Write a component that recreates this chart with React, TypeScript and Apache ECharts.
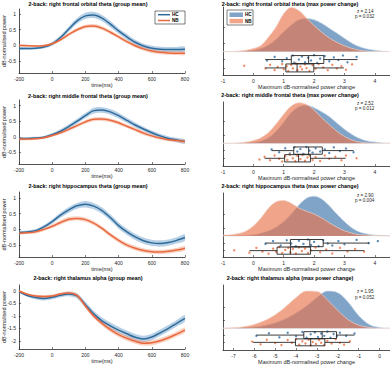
import React, { useEffect, useRef } from "react";
import * as echarts from "echarts";

// ---------------- data ----------------
const TIME = [-200, -150, -100, -50, 0, 50, 100, 150, 200, 250, 300, 350, 400, 450, 500, 550, 600, 650, 700, 750, 800];
const TIME_TICKS = [-200, 0, 200, 400, 600, 800];
const THETA_Y_TICKS = [-0.5, 0, 0.5, 1];
const ALPHA_Y_TICKS = [-2, -1.5, -1, -0.5, 0];
const THETA_X_TICKS = [-1, 0, 1, 2, 3, 4];
const ALPHA_X_TICKS = [-7, -6, -5, -4, -3, -2, -1, 0];
const DENS_Y_TICKS = [-0.37, -0.18, 0.2, 0.55];

const GROUPS = ["HC", "NB"];

// frontal orbital
const FO_HC_MEAN = [-0.1, -0.1, -0.09, -0.05, 0.05, 0.25, 0.52, 0.78, 0.94, 0.97, 0.87, 0.68, 0.46, 0.27, 0.1, -0.02, -0.09, -0.12, -0.13, -0.13, -0.12];
const FO_HC_CI = [0.04, 0.04, 0.04, 0.05, 0.06, 0.07, 0.08, 0.09, 0.1, 0.1, 0.1, 0.1, 0.09, 0.09, 0.08, 0.08, 0.08, 0.08, 0.08, 0.08, 0.08];
const FO_NB_MEAN = [0.0, -0.01, -0.02, -0.01, 0.05, 0.18, 0.35, 0.5, 0.6, 0.62, 0.55, 0.42, 0.27, 0.12, -0.01, -0.11, -0.18, -0.22, -0.24, -0.25, -0.25];
const FO_NB_CI = [0.03, 0.03, 0.03, 0.04, 0.04, 0.05, 0.05, 0.06, 0.06, 0.06, 0.06, 0.06, 0.06, 0.06, 0.06, 0.06, 0.06, 0.06, 0.06, 0.06, 0.06];
// middle frontal
const MF_HC_MEAN = [-0.05, -0.05, -0.04, -0.01, 0.07, 0.18, 0.33, 0.5, 0.68, 0.84, 0.86, 0.8, 0.68, 0.53, 0.38, 0.25, 0.13, 0.03, -0.05, -0.1, -0.15];
const MF_HC_CI = [0.04, 0.04, 0.04, 0.04, 0.05, 0.06, 0.07, 0.08, 0.08, 0.09, 0.09, 0.09, 0.09, 0.08, 0.08, 0.07, 0.07, 0.07, 0.07, 0.07, 0.07];
const MF_NB_MEAN = [-0.07, -0.07, -0.06, -0.03, 0.04, 0.13, 0.24, 0.36, 0.48, 0.56, 0.57, 0.53, 0.45, 0.34, 0.23, 0.12, 0.03, -0.04, -0.09, -0.12, -0.15];
const MF_NB_CI = [0.04, 0.04, 0.04, 0.04, 0.04, 0.05, 0.05, 0.05, 0.06, 0.06, 0.06, 0.06, 0.06, 0.06, 0.06, 0.06, 0.05, 0.05, 0.05, 0.05, 0.05];
// hippocampus
const HP_HC_MEAN = [-0.1, -0.08, -0.04, 0.08, 0.25, 0.45, 0.62, 0.75, 0.8, 0.74, 0.6, 0.38, 0.12, -0.08, -0.24, -0.36, -0.43, -0.45, -0.42, -0.35, -0.26];
const HP_HC_CI = [0.04, 0.04, 0.05, 0.06, 0.07, 0.08, 0.09, 0.09, 0.1, 0.1, 0.1, 0.1, 0.1, 0.1, 0.1, 0.1, 0.1, 0.1, 0.1, 0.1, 0.1];
const HP_NB_MEAN = [-0.12, -0.11, -0.08, 0.0, 0.1, 0.22, 0.32, 0.35, 0.31, 0.2, 0.03, -0.17, -0.35, -0.5, -0.6, -0.67, -0.71, -0.72, -0.7, -0.66, -0.6];
const HP_NB_CI = [0.04, 0.04, 0.05, 0.05, 0.06, 0.07, 0.07, 0.07, 0.07, 0.07, 0.07, 0.07, 0.07, 0.07, 0.07, 0.07, 0.07, 0.07, 0.07, 0.07, 0.07];
// thalamus
const TH_HC_MEAN = [-0.02, -0.18, -0.26, -0.3, -0.25, -0.17, -0.12, -0.2, -0.55, -0.92, -1.2, -1.4, -1.57, -1.72, -1.86, -1.93, -1.85, -1.68, -1.5, -1.3, -1.1];
const TH_HC_CI = [0.03, 0.05, 0.07, 0.08, 0.08, 0.08, 0.09, 0.1, 0.12, 0.13, 0.13, 0.13, 0.13, 0.13, 0.13, 0.13, 0.13, 0.13, 0.13, 0.13, 0.13];
const TH_NB_MEAN = [0.0, -0.13, -0.2, -0.22, -0.2, -0.12, -0.08, -0.18, -0.6, -1.0, -1.3, -1.55, -1.75, -1.9, -2.02, -2.1, -2.08, -2.0, -1.88, -1.73, -1.57];
const TH_NB_CI = [0.03, 0.04, 0.05, 0.06, 0.06, 0.06, 0.07, 0.08, 0.09, 0.1, 0.1, 0.1, 0.1, 0.1, 0.1, 0.1, 0.1, 0.1, 0.1, 0.1, 0.1];

// densities (max power change)
const THETA_DENS_X = [-1, -0.75, -0.5, -0.25, 0, 0.25, 0.5, 0.75, 1, 1.25, 1.5, 1.75, 2, 2.25, 2.5, 2.75, 3, 3.25, 3.5, 3.75, 4, 4.25, 4.5];
const ALPHA_DENS_X = [-7.5, -7, -6.5, -6, -5.5, -5, -4.5, -4, -3.5, -3, -2.5, -2, -1.5, -1, -0.5, 0, 0.5];

const FO_HC_DENS = [0, 0, 0, 0.01, 0.03, 0.07, 0.15, 0.28, 0.45, 0.6, 0.72, 0.75, 0.72, 0.64, 0.53, 0.42, 0.3, 0.19, 0.11, 0.06, 0.03, 0.01, 0];
const FO_NB_DENS = [0, 0, 0.01, 0.03, 0.07, 0.14, 0.33, 0.56, 0.86, 1.0, 0.93, 0.76, 0.59, 0.44, 0.31, 0.21, 0.13, 0.07, 0.03, 0.01, 0, 0, 0];
const MF_HC_DENS = [0, 0, 0, 0, 0.02, 0.06, 0.14, 0.3, 0.52, 0.76, 0.9, 0.94, 0.88, 0.78, 0.66, 0.5, 0.35, 0.22, 0.12, 0.06, 0.03, 0.01, 0];
const MF_NB_DENS = [0, 0, 0.01, 0.03, 0.07, 0.14, 0.27, 0.48, 0.72, 0.92, 1.0, 0.96, 0.82, 0.63, 0.46, 0.3, 0.17, 0.08, 0.03, 0.01, 0, 0, 0];
const HP_HC_DENS = [0, 0, 0, 0.01, 0.03, 0.07, 0.13, 0.22, 0.36, 0.55, 0.78, 0.95, 1.0, 0.93, 0.76, 0.55, 0.36, 0.2, 0.1, 0.05, 0.02, 0.01, 0];
const HP_NB_DENS = [0.02, 0.03, 0.06, 0.12, 0.25, 0.45, 0.7, 0.86, 0.89, 0.82, 0.7, 0.62, 0.55, 0.45, 0.33, 0.22, 0.13, 0.07, 0.03, 0.02, 0.01, 0, 0];
const TH_HC_DENS = [0, 0, 0.01, 0.03, 0.07, 0.14, 0.25, 0.4, 0.58, 0.8, 0.97, 0.93, 0.68, 0.33, 0.1, 0.02, 0];
const TH_NB_DENS = [0, 0.01, 0.04, 0.1, 0.2, 0.35, 0.56, 0.8, 0.97, 0.96, 0.74, 0.46, 0.22, 0.08, 0.02, 0, 0];

// boxes: [whisker low, q1, median, q3, whisker high]
const FO_HC_BOX = [0.39, 1.25, 1.82, 2.32, 3.43];
const FO_NB_BOX = [0.39, 1.07, 1.44, 1.99, 2.98];
const MF_HC_BOX = [0.6, 1.33, 1.82, 2.27, 3.3];
const MF_NB_BOX = [0.37, 1.03, 1.49, 1.88, 3.04];
const HP_HC_BOX = [0.39, 1.22, 1.86, 2.3, 3.81];
const HP_NB_BOX = [-0.13, 0.78, 1.22, 1.88, 3.65];
const TH_HC_BOX = [-5.9, -3.63, -2.75, -2.06, -1.2];
const TH_NB_BOX = [-6.06, -4.03, -3.3, -2.62, -1.42];
const HC_ROW = -0.18;
const NB_ROW = -0.37;

// jittered individual values [value, jitter]
const FO_HC_PTS = [[0.45, -0.2], [0.7, -0.12], [0.95, -0.22], [1.1, -0.15], [1.3, -0.09], [1.35, -0.25], [1.5, -0.18], [1.6, -0.11], [1.7, -0.24], [1.8, -0.14], [1.9, -0.2], [2.0, -0.08], [2.1, -0.26], [2.2, -0.16], [2.35, -0.1], [2.5, -0.22], [2.65, -0.13], [2.8, -0.19], [2.95, -0.09], [3.1, -0.24], [3.4, -0.12]];
const FO_NB_PTS = [[-0.3, -0.32], [0.4, -0.38], [0.55, -0.3], [0.7, -0.42], [0.8, -0.35], [0.95, -0.28], [1.0, -0.4], [1.1, -0.33], [1.15, -0.44], [1.25, -0.3], [1.3, -0.38], [1.4, -0.27], [1.45, -0.42], [1.55, -0.34], [1.6, -0.4], [1.7, -0.29], [1.75, -0.37], [1.85, -0.44], [1.95, -0.31], [2.05, -0.39], [2.15, -0.28], [2.3, -0.36], [2.45, -0.42], [2.6, -0.3], [2.75, -0.38], [2.9, -0.33], [3.05, -0.41], [3.25, -0.29]];
const MF_HC_PTS = [[0.6, -0.15], [0.85, -0.22], [1.05, -0.12], [1.2, -0.25], [1.35, -0.1], [1.45, -0.2], [1.55, -0.14], [1.65, -0.26], [1.75, -0.09], [1.85, -0.18], [1.95, -0.23], [2.05, -0.12], [2.2, -0.2], [2.35, -0.15], [2.5, -0.24], [2.65, -0.1], [2.85, -0.19], [3.05, -0.13], [3.3, -0.22]];
const MF_NB_PTS = [[0.2, -0.4], [0.37, -0.33], [0.55, -0.42], [0.7, -0.3], [0.85, -0.38], [0.95, -0.45], [1.05, -0.32], [1.12, -0.41], [1.2, -0.28], [1.3, -0.37], [1.38, -0.44], [1.45, -0.31], [1.55, -0.39], [1.62, -0.29], [1.7, -0.43], [1.78, -0.35], [1.85, -0.3], [1.95, -0.41], [2.05, -0.34], [2.2, -0.44], [2.35, -0.3], [2.5, -0.38], [2.7, -0.33], [2.9, -0.42], [3.05, -0.3], [3.4, -0.37]];
const HP_HC_PTS = [[0.4, -0.2], [0.65, -0.13], [0.9, -0.24], [1.1, -0.11], [1.25, -0.19], [1.4, -0.26], [1.5, -0.12], [1.65, -0.2], [1.8, -0.09], [1.9, -0.23], [2.0, -0.15], [2.15, -0.26], [2.3, -0.11], [2.45, -0.19], [2.6, -0.24], [2.8, -0.13], [3.0, -0.21], [3.4, -0.1], [3.8, -0.18], [4.1, -0.13]];
const HP_NB_PTS = [[-0.63, -0.36], [-0.13, -0.42], [0.1, -0.3], [0.3, -0.39], [0.5, -0.45], [0.65, -0.32], [0.75, -0.4], [0.85, -0.28], [0.95, -0.43], [1.05, -0.35], [1.15, -0.3], [1.22, -0.41], [1.3, -0.33], [1.4, -0.44], [1.5, -0.29], [1.6, -0.38], [1.7, -0.32], [1.8, -0.43], [1.9, -0.36], [2.05, -0.29], [2.2, -0.41], [2.4, -0.34], [2.6, -0.44], [2.85, -0.3], [3.1, -0.39], [3.35, -0.33], [3.65, -0.4]];
const TH_HC_PTS = [[-5.9, -0.2], [-5.3, -0.13], [-4.8, -0.24], [-4.4, -0.12], [-4.0, -0.21], [-3.7, -0.1], [-3.5, -0.25], [-3.3, -0.16], [-3.1, -0.11], [-2.95, -0.23], [-2.8, -0.14], [-2.65, -0.2], [-2.5, -0.09], [-2.35, -0.25], [-2.2, -0.15], [-2.05, -0.21], [-1.9, -0.12], [-1.6, -0.2], [-1.2, -0.14]];
const TH_NB_PTS = [[-6.1, -0.35], [-5.7, -0.42], [-5.4, -0.3], [-5.0, -0.39], [-4.7, -0.44], [-4.4, -0.31], [-4.2, -0.38], [-4.0, -0.29], [-3.85, -0.43], [-3.7, -0.34], [-3.55, -0.4], [-3.4, -0.3], [-3.3, -0.45], [-3.2, -0.36], [-3.05, -0.41], [-2.9, -0.31], [-2.8, -0.38], [-2.65, -0.44], [-2.5, -0.33], [-2.3, -0.4], [-2.1, -0.29], [-1.9, -0.38], [-1.7, -0.43], [-1.42, -0.34]];

const REGIONS = ["right frontal orbital theta", "right middle frontal theta", "right hippocampus theta", "right thalamus alpha"];
const Z_STATS = ["z = 2.14", "z = 2.52", "z = 2.90", "z = 1.95"];
const P_STATS = ["p = 0.032", "p = 0.012", "p = 0.004", "p = 0.052"];

const PANELS = [
  { hcMean: FO_HC_MEAN, hcCi: FO_HC_CI, nbMean: FO_NB_MEAN, nbCi: FO_NB_CI, yRange: [-0.88, 1.16], yTicks: THETA_Y_TICKS,
    densX: THETA_DENS_X, hcDens: FO_HC_DENS, nbDens: FO_NB_DENS, xRange: [-1, 4.5], xTicks: THETA_X_TICKS, dRange: [-0.53, 1.01],
    hcBox: FO_HC_BOX, nbBox: FO_NB_BOX, hcPts: FO_HC_PTS, nbPts: FO_NB_PTS },
  { hcMean: MF_HC_MEAN, hcCi: MF_HC_CI, nbMean: MF_NB_MEAN, nbCi: MF_NB_CI, yRange: [-0.87, 1.18], yTicks: THETA_Y_TICKS,
    densX: THETA_DENS_X, hcDens: MF_HC_DENS, nbDens: MF_NB_DENS, xRange: [-1, 4.5], xTicks: THETA_X_TICKS, dRange: [-0.56, 1.02],
    hcBox: MF_HC_BOX, nbBox: MF_NB_BOX, hcPts: MF_HC_PTS, nbPts: MF_NB_PTS },
  { hcMean: HP_HC_MEAN, hcCi: HP_HC_CI, nbMean: HP_NB_MEAN, nbCi: HP_NB_CI, yRange: [-0.88, 1.19], yTicks: THETA_Y_TICKS,
    densX: THETA_DENS_X, hcDens: HP_HC_DENS, nbDens: HP_NB_DENS, xRange: [-1, 4.5], xTicks: THETA_X_TICKS, dRange: [-0.53, 1.08],
    hcBox: HP_HC_BOX, nbBox: HP_NB_BOX, hcPts: HP_HC_PTS, nbPts: HP_NB_PTS },
  { hcMean: TH_HC_MEAN, hcCi: TH_HC_CI, nbMean: TH_NB_MEAN, nbCi: TH_NB_CI, yRange: [-2.33, 0.24], yTicks: ALPHA_Y_TICKS,
    densX: ALPHA_DENS_X, hcDens: TH_HC_DENS, nbDens: TH_NB_DENS, xRange: [-7.5, 0.5], xTicks: ALPHA_X_TICKS, dRange: [-0.57, 1.13],
    hcBox: TH_HC_BOX, nbBox: TH_NB_BOX, hcPts: TH_HC_PTS, nbPts: TH_NB_PTS },
];

// ---------------- layout / style ----------------
const LEFT_GRIDS = [{ top: 9, h: 64 }, { top: 100, h: 64 }, { top: 192, h: 65 }, { top: 285, h: 64 }];
const RIGHT_GRIDS = [{ top: 7, h: 68 }, { top: 102, h: 64 }, { top: 193, h: 64 }, { top: 285, h: 65 }];
const LEFT_TITLE_Y = [4, 96, 186, 278];
const RIGHT_TITLE_Y = [4, 95, 186, 278];
const STAT_Y = [[11, 16.5], [103, 108.5], [195, 200.5], [291.5, 297]];

const FONT = "Liberation Sans, Arial, Helvetica, sans-serif";
const AX = "#262626";
const HC_LINE = "#2f6b9a";
const NB_LINE = "#e8693e";
const HC_BAND = "rgba(95,150,200,0.45)";
const NB_BAND = "rgba(245,140,100,0.4)";
const HC_DENS_C = "rgb(128,164,200)";
const NB_DENS_C = "rgba(232,115,75,0.65)";
const HC_PT = "#4a7fb0";
const NB_PT = "#ee7f55";
const BOX_HALF = 0.09;

function bandSeries(idx: number, mean: number[], ci: number[], color: string) {
  return {
    type: "custom",
    xAxisIndex: idx,
    yAxisIndex: idx,
    silent: true,
    clip: true,
    z: 1,
    data: [[TIME[0], mean[0]]],
    renderItem: (_p: any, api: any) => {
      const upper = TIME.map((t, i) => api.coord([t, mean[i] + ci[i]]));
      const lower = TIME.map((t, i) => api.coord([t, mean[i] - ci[i]])).reverse();
      return { type: "polygon", shape: { points: upper.concat(lower), smooth: 0.3 }, style: { fill: color } };
    },
  };
}

function meanSeries(idx: number, name: string, mean: number[], color: string) {
  return {
    type: "line",
    name,
    xAxisIndex: idx,
    yAxisIndex: idx,
    data: TIME.map((t, i) => [t, mean[i]]),
    smooth: 0.3,
    showSymbol: false,
    silent: true,
    z: 3,
    lineStyle: { color, width: 1.5 },
  };
}

function densSeries(idx: number, xs: number[], d: number[], fill: string, edge: string, z: number) {
  return {
    type: "line",
    xAxisIndex: idx,
    yAxisIndex: idx,
    data: xs.map((x, i) => [x, d[i]]),
    smooth: 0.35,
    showSymbol: false,
    silent: true,
    z,
    lineStyle: { color: edge, width: 0.7 },
    areaStyle: { color: fill, opacity: 1, origin: "auto" },
  };
}

function ptsSeries(idx: number, pts: number[][], color: string) {
  return {
    type: "scatter",
    xAxisIndex: idx,
    yAxisIndex: idx,
    data: pts,
    symbolSize: 2.4,
    silent: true,
    z: 4,
    itemStyle: { color, opacity: 0.9 },
  };
}

function boxSeries(idx: number, box: number[], row: number) {
  return {
    type: "custom",
    xAxisIndex: idx,
    yAxisIndex: idx,
    silent: true,
    z: 5,
    data: [[box[0], box[1], box[2], box[3], box[4], row]],
    encode: { x: [0, 1, 2, 3, 4], y: 5 },
    renderItem: (_p: any, api: any) => {
      const c = api.value(5);
      const lo = api.coord([api.value(0), c]);
      const q1 = api.coord([api.value(1), c]);
      const md = api.coord([api.value(2), c]);
      const q3 = api.coord([api.value(3), c]);
      const hi = api.coord([api.value(4), c]);
      const yTop = api.coord([api.value(1), c + BOX_HALF])[1];
      const yBot = api.coord([api.value(1), c - BOX_HALF])[1];
      const st = { stroke: AX, lineWidth: 0.9, fill: "none" };
      return {
        type: "group",
        children: [
          { type: "line", shape: { x1: lo[0], y1: lo[1], x2: q1[0], y2: q1[1] }, style: st },
          { type: "line", shape: { x1: q3[0], y1: q3[1], x2: hi[0], y2: hi[1] }, style: st },
          { type: "rect", shape: { x: q1[0], y: yTop, width: q3[0] - q1[0], height: yBot - yTop }, style: st },
          { type: "line", shape: { x1: md[0], y1: yTop, x2: md[0], y2: yBot }, style: st },
        ],
      };
    },
  };
}

function txt(x: number, y: number, text: string, size: number, bold: boolean, align: string) {
  return {
    type: "text",
    x,
    y,
    silent: true,
    z: 100,
    style: {
      text,
      fontSize: size,
      fontWeight: bold ? "bold" : "normal",
      fontFamily: FONT,
      fill: bold ? "#000" : AX,
      align,
      verticalAlign: "middle",
      textAlign: align,
      textVerticalAlign: "middle",
    },
  };
}

function buildOption() {
  const grids: any[] = [];
  const xAxes: any[] = [];
  const yAxes: any[] = [];
  const series: any[] = [];
  const graphics: any[] = [];

  const axisLine = { show: true, onZero: false, lineStyle: { color: AX, width: 0.8 } };
  const tickBase = { show: true, inside: true, length: 2, lineStyle: { color: AX, width: 0.6 } };
  const labelBase = { fontSize: 5, color: AX, fontFamily: FONT };
  const nameStyle = { fontSize: 5.5, color: AX, fontFamily: FONT };

  PANELS.forEach((p, r) => {
    const li = r;
    const ri = r + 4;
    grids[li] = { left: 19, width: 166, top: LEFT_GRIDS[r].top, height: LEFT_GRIDS[r].h, containLabel: false, outerBoundsMode: "none" };
    grids[ri] = { left: 223, width: 167, top: RIGHT_GRIDS[r].top, height: RIGHT_GRIDS[r].h, containLabel: false, outerBoundsMode: "none" };

    xAxes[li] = {
      type: "value", gridIndex: li, min: -200, max: 800,
      axisLine, axisTick: { ...tickBase, customValues: TIME_TICKS },
      axisLabel: { ...labelBase, margin: 3, customValues: TIME_TICKS }, splitLine: { show: false },
      name: "time(ms)", nameLocation: "middle", nameGap: 9, nameMoveOverlap: false, nameTextStyle: nameStyle,
    };
    yAxes[li] = {
      type: "value", gridIndex: li, min: p.yRange[0], max: p.yRange[1],
      axisLine, axisTick: { ...tickBase, customValues: p.yTicks },
      axisLabel: { ...labelBase, margin: 3, customValues: p.yTicks }, splitLine: { show: false },
      name: "dB-normalised power", nameLocation: "middle", nameGap: 12, nameMoveOverlap: false, nameTextStyle: nameStyle,
    };
    xAxes[ri] = {
      type: "value", gridIndex: ri, min: p.xRange[0], max: p.xRange[1],
      axisLine, axisTick: { ...tickBase, customValues: p.xTicks },
      axisLabel: { ...labelBase, margin: 3, customValues: p.xTicks }, splitLine: { show: false },
      name: "Maximum dB-normalised power change", nameLocation: "middle", nameGap: 9, nameMoveOverlap: false, nameTextStyle: nameStyle,
    };
    yAxes[ri] = {
      type: "value", gridIndex: ri, min: p.dRange[0], max: p.dRange[1],
      axisLine, axisTick: { ...tickBase, customValues: DENS_Y_TICKS },
      axisLabel: { show: false }, splitLine: { show: false },
    };

    series.push(bandSeries(li, p.hcMean, p.hcCi, HC_BAND));
    series.push(bandSeries(li, p.nbMean, p.nbCi, NB_BAND));
    series.push(meanSeries(li, GROUPS[0], p.hcMean, HC_LINE));
    series.push(meanSeries(li, GROUPS[1], p.nbMean, NB_LINE));

    series.push(densSeries(ri, p.densX, p.hcDens, HC_DENS_C, "#c9d9e8", 1));
    series.push(densSeries(ri, p.densX, p.nbDens, NB_DENS_C, "#f3d2c4", 2));
    series.push(ptsSeries(ri, p.hcPts, HC_PT));
    series.push(ptsSeries(ri, p.nbPts, NB_PT));
    series.push(boxSeries(ri, p.hcBox, HC_ROW));
    series.push(boxSeries(ri, p.nbBox, NB_ROW));

    graphics.push(txt(88, LEFT_TITLE_Y[r], `2-back: ${REGIONS[r]} (group mean)`, 5.4, true, "center"));
    graphics.push(txt(290, RIGHT_TITLE_Y[r], `2-back: ${REGIONS[r]} (max power change)`, 5.4, true, "center"));
    graphics.push(txt(357, STAT_Y[r][0], Z_STATS[r], 4.6, false, "left"));
    graphics.push(txt(355, STAT_Y[r][1], P_STATS[r], 4.6, false, "left"));
  });

  // legend, left panel
  graphics.push({ type: "rect", shape: { x: 155, y: 11, width: 30, height: 13 }, style: { fill: "#fff", stroke: AX, lineWidth: 0.6 }, z: 99, silent: true });
  graphics.push({ type: "line", shape: { x1: 158, y1: 14.7, x2: 170, y2: 14.7 }, style: { stroke: HC_LINE, lineWidth: 1.5 }, z: 100, silent: true });
  graphics.push({ type: "line", shape: { x1: 158, y1: 20.5, x2: 170, y2: 20.5 }, style: { stroke: NB_LINE, lineWidth: 1.5 }, z: 100, silent: true });
  graphics.push(txt(172, 14.7, GROUPS[0], 4.6, true, "left"));
  graphics.push(txt(172, 20.5, GROUPS[1], 4.6, true, "left"));
  // legend, right panel
  graphics.push({ type: "rect", shape: { x: 227, y: 10, width: 26, height: 15 }, style: { fill: "#fff", stroke: AX, lineWidth: 0.6 }, z: 99, silent: true });
  graphics.push({ type: "rect", shape: { x: 229.5, y: 12.5, width: 13.5, height: 4.5 }, style: { fill: HC_DENS_C }, z: 100, silent: true });
  graphics.push({ type: "rect", shape: { x: 229.5, y: 18.8, width: 13.5, height: 4.5 }, style: { fill: "rgb(240,164,138)" }, z: 100, silent: true });
  graphics.push(txt(245, 14.8, GROUPS[0], 4.6, true, "left"));
  graphics.push(txt(245, 21, GROUPS[1], 4.6, true, "left"));

  return {
    animation: false,
    backgroundColor: "#fff",
    textStyle: { fontFamily: FONT },
    grid: grids,
    xAxis: xAxes,
    yAxis: yAxes,
    series,
    graphic: { elements: graphics },
  };
}

export default function App() {
  const ref = useRef<HTMLDivElement>(null);
  useEffect(() => {
    if (!ref.current) return;
    const chart = echarts.init(ref.current, undefined, { renderer: "svg" });
    chart.setOption(buildOption() as any);
    return () => chart.dispose();
  }, []);
  return (
    <div
      ref={ref}
      style={{ position: "absolute", left: 0, top: 0, width: 390, height: 366, background: "#fff" }}
    />
  );
}
